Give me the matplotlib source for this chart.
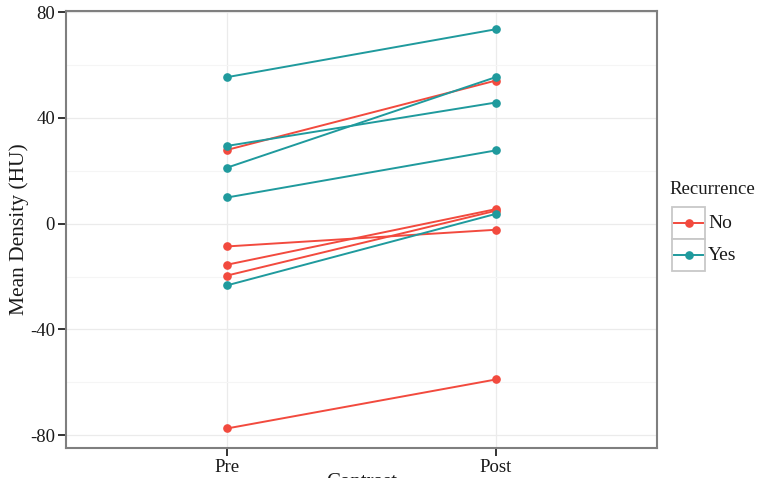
import numpy as np
import matplotlib.pyplot as plt
from matplotlib.patches import Rectangle
from matplotlib.lines import Line2D

plt.rcParams['font.family'] = ['Liberation Serif', 'DejaVu Serif']
plt.rcParams['axes.unicode_minus'] = False

# data: pre / post mean density per patient
phases = ['Pre', 'Post']
groups = ['No', 'Yes']
colors = {'No': '#F24A3E', 'Yes': '#1F9A9D'}

pre_no = [27.9, -8.6, -15.5, -19.6, -77.4]
post_no = [54.1, -2.3, 5.5, 4.9, -58.9]
pre_yes = [55.4, 29.4, 21.2, 9.9, -23.3]
post_yes = [73.5, 45.8, 55.4, 27.7, 3.7]

series = {'No': (pre_no, post_no), 'Yes': (pre_yes, post_yes)}

fig = plt.figure(figsize=(7.67, 4.78), dpi=100)
ax = fig.add_axes([66/767, 1-448/478, (657-66)/767, (448-11)/478])

xs = np.arange(1, len(phases) + 1)
for g in groups:
    pre, post = series[g]
    for a, b in zip(pre, post):
        ax.plot(xs, [a, b], color=colors[g], lw=1.4, marker='o', ms=5.2,
                solid_capstyle='round', zorder=3)

ax.set_xlim(0.4, 2.6)
ax.set_ylim(-84.8, 80.4)
ax.set_xticks(xs)
ax.set_xticklabels(phases)
ax.set_yticks([-80, -40, 0, 40, 80])
ax.set_yticks([-60, -20, 20, 60], minor=True)
ax.grid(which='major', color='#ebebeb', lw=0.9, zorder=0)
ax.grid(which='minor', axis='y', color='#f5f5f5', lw=0.8, zorder=0)
ax.set_axisbelow(True)

for s in ax.spines.values():
    s.set_color('#7f7f7f')
    s.set_linewidth(1.5)
ax.tick_params(which='major', length=5.5, width=1.4, color='#333333',
               labelsize=13.5, labelcolor='#1a1a1a', pad=2.5)
ax.tick_params(which='minor', length=0)
ax.set_ylabel('Mean Density (HU)', fontsize=15.5, color='#1a1a1a')
ax.yaxis.set_label_coords(-0.062, 0.5)

# x label sits mostly below the image edge, as in the reference
fig.text((66+657)/2/767, 1-473/478, 'Contrast', ha='center', va='top',
         fontsize=15, color='#1a1a1a')

# legend drawn by hand in ggplot style
fig.text(669/767, 1-190/478, 'Recurrence', ha='left', va='center',
         fontsize=13.5, color='#1a1a1a')
kx0, kx1 = 672/767, 705/767
for i, g in enumerate(groups):
    y0 = 1 - (239 + 32*i)/478
    h = 32/478
    fig.patches.append(Rectangle((kx0, y0), kx1-kx0, h, transform=fig.transFigure,
                                 facecolor='white', edgecolor='#c8c8c8', lw=1.3))
    yc = y0 + h/2
    fig.lines.append(Line2D([kx0+0.002, kx1-0.002], [yc, yc], transform=fig.transFigure,
                            color=colors[g], lw=1.4))
    fig.lines.append(Line2D([(kx0+kx1)/2], [yc], transform=fig.transFigure,
                            color=colors[g], marker='o', ms=5.2, ls='none'))
    fig.text(708/767, yc, g, ha='left', va='center', fontsize=14, color='#1a1a1a')

fig.savefig('out.png', dpi=100)
